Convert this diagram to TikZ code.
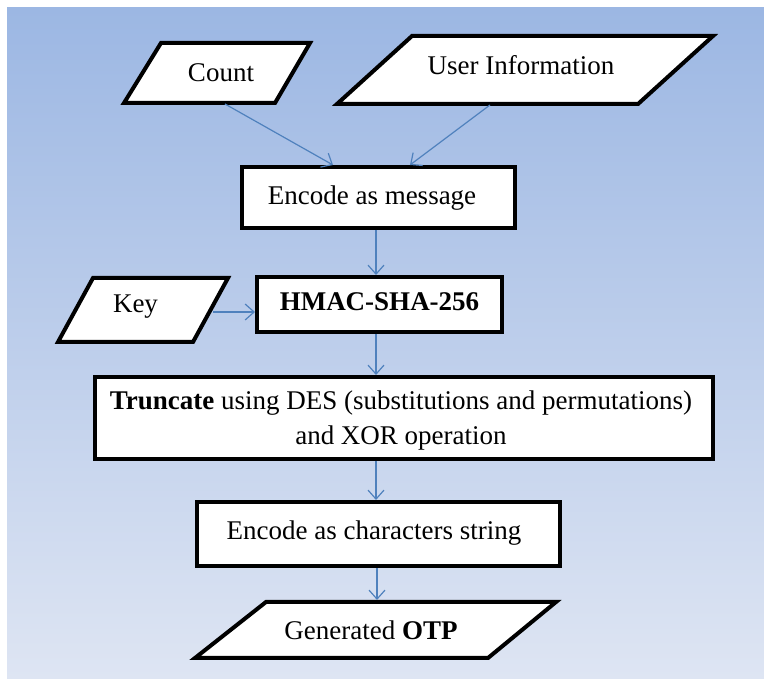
\documentclass[tikz,border=0pt]{standalone}
\usepackage{fontspec}
\setmainfont{Liberation Serif}
\usetikzlibrary{arrows.meta}
\definecolor{bgtop}{RGB}{156,183,227}
\definecolor{bgbot}{RGB}{222,229,243}
\definecolor{arrowblue}{RGB}{79,129,189}
\begin{document}
\begin{tikzpicture}[x=1pt,y=-1pt,
  para/.style={draw=black,line width=4pt,fill=white},
  txt/.style={font=\fontsize{27}{35}\selectfont,text height=19pt,text depth=6pt,inner sep=0pt},
  box/.style={draw=black,line width=4pt,fill=white,inner sep=0pt,align=center},
  conn/.style={draw=arrowblue,line width=1.2pt,-{Straight Barb[length=9pt,width=16pt,line width=1.2pt]}}]
\path[use as bounding box] (0,0) rectangle (764,684);
\shade[top color=bgtop,bottom color=bgbot] (7,8) rectangle (764,679);
% Count
\draw[para] (161,43) -- (310,43) -- (275,103) -- (124,103) -- cycle;
\node[txt] (count) at (221,75.5) {Count};
\coordinate (countS) at (225,104);
% User Information
\draw[para] (412,36) -- (713,36) -- (638,104) -- (337,104) -- cycle;
\node[txt] (user) at (521,68.5) {User Information};
\coordinate (userS) at (490,105);
% Encode as message
\node[box,minimum width=273pt,minimum height=61pt] (enc1) at (378.5,197.5) {};
\node[txt] (enc1t) at (372,198.5) {Encode as message};
% HMAC
\node[box,txt,minimum width=245pt,minimum height=55pt] (hmac) at (379.5,304.5) {\textbf{HMAC-SHA-256}};
% Key
\draw[para] (93,278) -- (228,278) -- (193,342) -- (58,342) -- cycle;
\node[txt] (key) at (135.5,306.5) {Key};
\coordinate (keyE) at (213,312);
% Truncate
\node[box,minimum width=618pt,minimum height=82pt] (trunc) at (404,418) {};
\node[font=\fontsize{27}{35}\selectfont,align=center,inner sep=0pt] (trunct) at (401,421) {\textbf{Truncate} using DES (substitutions and permutations)\\and XOR operation};
% Encode as characters string
\node[box,minimum width=363pt,minimum height=64pt] (enc2) at (378.5,534) {};
\node[txt] (enc2t) at (374,533.5) {Encode as characters string};
% OTP
\draw[para] (266,602) -- (556,602) -- (488,658) -- (195,658) -- cycle;
\node[txt] (otp) at (371,633.5) {Generated \textbf{OTP}};
\coordinate (otpN) at (377,600);
% connectors
\draw[conn] (countS) -- ([xshift=-45.5pt]enc1.north);
\draw[conn] (userS) -- ([xshift=31.5pt]enc1.north);
\draw[conn] ([xshift=-2.5pt]enc1.south) -- ([xshift=-2.5pt]enc1.south |- hmac.north);
\draw[conn] (keyE) -- (keyE -| hmac.west);
\draw[conn] ([xshift=-3.5pt]hmac.south) -- ([xshift=-3.5pt]hmac.south |- trunc.north);
\draw[conn] ([xshift=-28pt]trunc.south) -- ([xshift=-28pt]trunc.south |- enc2.north);
\draw[conn] ([xshift=-1.5pt]enc2.south) -- (otpN);
\end{tikzpicture}
\end{document}
